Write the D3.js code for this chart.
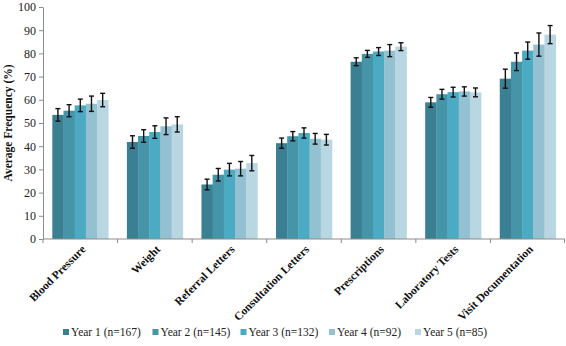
<!DOCTYPE html>
<html>
<head>
<meta charset="utf-8">
<script src="https://cdn.jsdelivr.net/npm/d3@7/dist/d3.min.js"></script>
<style>
  body { margin: 0; background: #fff; }
  svg text { font-family: "Times New Roman", "Liberation Serif", "DejaVu Serif", serif; }
</style>
</head>
<body>
<svg id="chart" width="566" height="346"></svg>
<script>
// Chart data
const categories = ["Blood Pressure", "Weight", "Referral Letters", "Consultation Letters",
                    "Prescriptions", "Laboratory Tests", "Visit Documentation"];
const seriesNames = ["Year 1 (n=167)", "Year 2 (n=145)", "Year 3 (n=132)", "Year 4 (n=92)", "Year 5 (n=85)"];

// values per year, in category order
const year1 = [53.5, 41.8, 23.5, 41.3, 76.4, 58.9, 69.1];
const year2 = [55.3, 44.4, 27.7, 44.3, 79.8, 62.4, 76.4];
const year3 = [57.6, 46.1, 29.9, 45.7, 80.8, 63.3, 81.2];
const year4 = [58.3, 48.6, 30.3, 43.2, 81.2, 63.6, 83.8];
const year5 = [59.9, 49.4, 32.7, 42.8, 82.9, 63.2, 88.1];

// error bar half-widths
const err1 = [2.7, 2.7, 2.3, 2.2, 1.7, 2.1, 4.1];
const err2 = [2.6, 2.7, 2.7, 2.0, 1.5, 2.1, 3.8];
const err3 = [2.7, 2.7, 2.7, 2.2, 1.7, 2.1, 3.7];
const err4 = [3.3, 3.6, 3.1, 2.3, 2.6, 2.0, 5.0];
const err5 = [2.9, 3.3, 3.3, 2.3, 1.7, 1.9, 3.9];

const yTicks = [0, 10, 20, 30, 40, 50, 60, 70, 80, 90, 100];

const colorRange = ["#3b7f92", "#4694a8", "#4babc3", "#93c1d1", "#b9d6e3"];

const allValues = [year1, year2, year3, year4, year5];
const allErrors = [err1, err2, err3, err4, err5];

// Dimensions
const margin = {top: 7, right: 1, bottom: 107, left: 43};
const width = 566, height = 346;

const svg = d3.select("#chart");

const x0 = d3.scaleBand()
    .domain(categories)
    .range([margin.left, width - margin.right])
    .paddingInner(0.25)
    .paddingOuter(0.125);

const x1 = d3.scaleBand()
    .domain(seriesNames)
    .range([0, x0.bandwidth()]);

const y = d3.scaleLinear()
    .domain([0, 100])
    .range([height - margin.bottom, margin.top]);

const color = d3.scaleOrdinal()
    .domain(seriesNames)
    .range(colorRange);

// flatten for drawing
let rows = [];
categories.forEach((c, i) => {
    seriesNames.forEach((s, j) => {
        rows.push({cat: c, series: s, value: allValues[j][i], err: allErrors[j][i]});
    });
});

// bars
svg.append("g")
    .selectAll("rect")
    .data(rows)
    .join("rect")
    .attr("x", d => x0(d.cat) + x1(d.series))
    .attr("y", d => y(d.value))
    .attr("width", x1.bandwidth() + 0.3)
    .attr("height", d => y(0) - y(d.value))
    .attr("fill", d => color(d.series));

// error bars
const eb = svg.append("g")
    .attr("stroke", "#111")
    .attr("stroke-width", 1.4);

rows.forEach(d => {
    const cx = x0(d.cat) + x1(d.series) + x1.bandwidth() / 2;
    eb.append("line")
        .attr("x1", cx).attr("x2", cx)
        .attr("y1", y(d.value + d.err)).attr("y2", y(d.value - d.err));
    eb.append("line")
        .attr("x1", cx - 2.5).attr("x2", cx + 2.5)
        .attr("y1", y(d.value + d.err)).attr("y2", y(d.value + d.err));
    eb.append("line")
        .attr("x1", cx - 2.5).attr("x2", cx + 2.5)
        .attr("y1", y(d.value - d.err)).attr("y2", y(d.value - d.err));
});

// Y axis
const yAxis = svg.append("g")
    .attr("transform", `translate(${margin.left},0)`)
    .call(d3.axisLeft(y).tickValues(yTicks).tickSize(4).tickSizeOuter(0));
yAxis.select(".domain").attr("stroke", "#8c8c8c");
yAxis.selectAll(".tick line").attr("stroke", "#8c8c8c");
yAxis.selectAll(".tick text")
    .attr("x", -7)
    .style("font-size", "12px")
    .attr("fill", "#222");

// X axis line
const step = x0.step();
const boundaries = categories.map(c => x0(c) - step * x0.paddingInner() / 2).concat([width - margin.right - 0.5]);
svg.append("line")
    .attr("x1", margin.left).attr("x2", width - margin.right)
    .attr("y1", y(0)).attr("y2", y(0))
    .attr("stroke", "#8c8c8c");
svg.append("g")
    .selectAll("line")
    .data(boundaries)
    .join("line")
    .attr("x1", d => d).attr("x2", d => d)
    .attr("y1", y(0)).attr("y2", y(0) + 4)
    .attr("stroke", "#8c8c8c");

// category labels
svg.append("g")
    .selectAll("text")
    .data(categories)
    .join("text")
    .attr("transform", d => `translate(${x0(d) + x0.bandwidth() / 2 + 6},${y(0) + 11}) rotate(-45)`)
    .attr("text-anchor", "end")
    .style("font-size", "11.5px")
    .style("font-weight", "bold")
    .attr("fill", "#111")
    .text(d => d);

// y axis title
svg.append("text")
    .attr("transform", `translate(12,${(y(0) + y(100)) / 2}) rotate(-90)`)
    .attr("text-anchor", "middle")
    .style("font-size", "11.5px")
    .style("font-weight", "bold")
    .attr("fill", "#111")
    .text("Average Frequency (%)");

// legend
const legendX = [63, 152.5, 240.5, 329, 415];
const legend = svg.append("g");
const items = legend.selectAll("g")
    .data(seriesNames)
    .join("g")
    .attr("transform", (d, i) => `translate(${legendX[i]},336)`);
items.append("rect")
    .attr("x", 0).attr("y", -7)
    .attr("width", 6).attr("height", 6)
    .attr("fill", d => color(d));
items.append("text")
    .attr("x", 8)
    .attr("y", 0)
    .style("font-size", "11.5px")
    .attr("fill", "#222")
    .text(d => d);
</script>
</body>
</html>
